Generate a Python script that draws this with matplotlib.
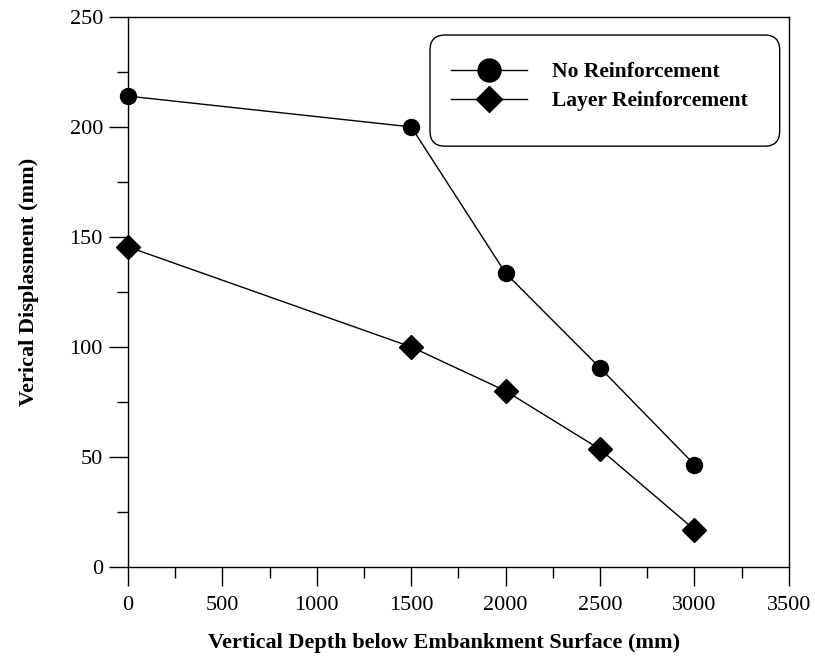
import numpy as np
import matplotlib
matplotlib.use("Agg")
import matplotlib.pyplot as plt
from matplotlib.ticker import MultipleLocator
from matplotlib.patches import FancyBboxPatch

# dane
depth = [0, 1500, 2000, 2500, 3000]
no_reinf = [214, 200, 133.5, 90.5, 46.5]
layer_reinf = [145.5, 100, 80, 53.5, 17]

plt.rcParams['font.family'] = ['Liberation Serif', 'DejaVu Serif']

fig = plt.figure(figsize=(8.15, 6.62), dpi=100)
ax = fig.add_axes([0.157, 0.1435, 0.811, 0.831])

ax.plot(depth, no_reinf, color="black", lw=1.0, marker="o", markersize=11.5,
        label="No Reinforcement", clip_on=False, zorder=3)
ax.plot(depth, layer_reinf, color="black", lw=1.0, marker="D", markersize=12,
        label="Layer Reinforcement", clip_on=False, zorder=3)

ax.set_xlim(0, 3500)
ax.set_ylim(0, 250)
ax.xaxis.set_major_locator(MultipleLocator(500))
ax.xaxis.set_minor_locator(MultipleLocator(250))
ax.yaxis.set_major_locator(MultipleLocator(50))
ax.yaxis.set_minor_locator(MultipleLocator(25))
ax.tick_params(which="major", direction="out", length=14, width=1.0, labelsize=16, pad=4)
ax.tick_params(which="minor", direction="out", length=8, width=1.0)
ax.tick_params(axis="x", which="major", pad=7)
for s in ax.spines.values():
    s.set_linewidth(1.0)

ax.set_xlabel("Vertical Depth below Embankment Surface (mm)", fontsize=16,
              fontweight="bold")
ax.set_ylabel("Verical Displasment (mm)", fontsize=16, fontweight="bold")
# pozycje podpisów osi jak w oryginale (lekko przesunięte)
ax.xaxis.set_label_coords(0.479, -0.12)
ax.yaxis.set_label_coords(-0.134, 0.518)

# legenda bez ramki + własna zaokrąglona ramka
leg = ax.legend(loc="center left", bbox_to_anchor=(0.4887, 0.873), borderaxespad=0,
                borderpad=0, handlelength=3.53, labelspacing=0.4, handletextpad=1.16,
                frameon=False, prop={"weight": "bold", "size": 15.5})
# w legendzie znaczniki są większe
leg.legend_handles[0].set_markersize(16.5)
leg.legend_handles[1].set_markersize(13.5)
aspect = (0.811 * 815) / (0.831 * 662)
box = FancyBboxPatch((0.457, 0.765), 0.529, 0.202, transform=ax.transAxes,
                     boxstyle="round,pad=0,rounding_size=0.0227", mutation_aspect=aspect,
                     facecolor="white", edgecolor="black", lw=1.0, zorder=4)
ax.add_patch(box)
leg.set_zorder(5)

fig.savefig("out.png", dpi=100)
